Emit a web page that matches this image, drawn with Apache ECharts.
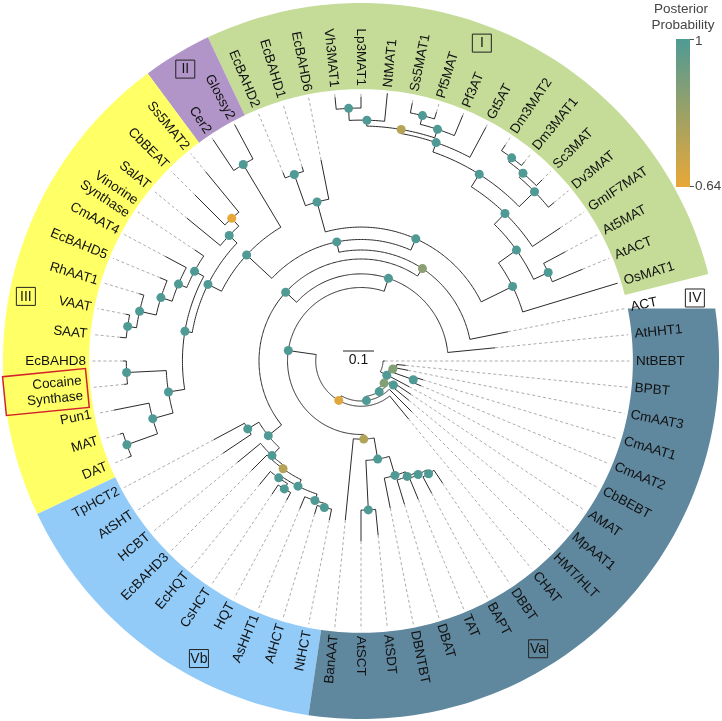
<!DOCTYPE html>
<html>
<head>
<meta charset="utf-8">
<script src="https://cdn.jsdelivr.net/npm/echarts@6/dist/echarts.min.js"></script>
<style>
html,body{margin:0;padding:0;background:#ffffff;}
#chart{width:722px;height:721px;}
</style>
</head>
<body>
<div id="chart"></div>
<script>
// ---------- DATA ----------
// Leaves in counter-clockwise order; leaf i sits at angle position i+1 (64 positions = 360 deg)
const leafNames = ['AtHHT1','ACT','OsMAT1','AtACT','At5MAT','GmIF7MAT','Dv3MAT','Sc3MAT','Dm3MAT1','Dm3MAT2',
  'Gt5AT','Pf3AT','Pf5MAT','Ss5MAT1','NtMAT1','Lp3MAT1','Vh3MAT1','EcBAHD6','EcBAHD1','EcBAHD2',
  'Glossy2','Cer2','Ss5MAT2','CbBEAT','SalAT','Vinorine\nSynthase','CmAAT4','EcBAHD5','RhAAT1','VAAT',
  'SAAT','EcBAHD8','Cocaine\nSynthase','Pun1','MAT','DAT','TpHCT2','AtSHT','HCBT','EcBAHD3',
  'EcHQT','CsHCT','HQT','AsHHT1','AtHCT','NtHCT','BanAAT','AtSCT','AtSDT','DBNTBT',
  'DBAT','TAT','BAPT','DBBT','CHAT','HMT/HLT','MpAAT1','AMAT','CbBEBT','CmAAT2',
  'CmAAT1','CmAAT3','BPBT','NtBEBT'];
// distance of each tip from the root (substitutions / site)
const leafDepths = [0.435,0.484,0.865,0.774,0.748,0.774,0.806,0.826,0.832,0.839,
  0.855,0.858,0.839,0.848,0.868,0.852,0.855,0.661,0.655,0.658,
  0.865,0.858,0.790,0.758,0.726,0.645,0.716,0.703,0.748,0.774,
  0.781,0.768,0.768,0.813,0.813,0.813,0.539,0.535,0.516,0.500,
  0.516,0.516,0.510,0.516,0.516,0.523,0.516,0.581,0.565,0.484,
  0.484,0.484,0.484,0.474,0.242,0.232,0.200,0.194,0.177,0.210,
  0.210,0.155,0.145,0.077];
// internal nodes
const nodeIds = ['R','b','c','e','f','g','D','A','X','B',
  'P','S','I1','I2','I3a','I3','I4','DmG','DmG2','DmG3',
  'I5','I6','PfG','PfG2','NtG','LpVh','EB','EB12','Q','GC',
  'III','SS','SSa','III2','VinG','VinG2','VinG3','VinG4','VinG5','EcG',
  'EcCoc','PunG','MD','Vb','TA','VbB','VbC','VbD','VbE','CH',
  'VbF','AN','VB','VB2','SS2','VB3','VB4','VB5','VB6','d',
  'a','h','k'];
const nodeDepths = [0.071,0.095,0.103,0.115,0.129,0.146,0.237,0.281,0.329,0.358,
  0.392,0.432,0.545,0.616,0.668,0.665,0.713,0.782,0.800,0.816,
  0.745,0.758,0.787,0.816,0.777,0.816,0.532,0.639,0.503,0.739,
  0.552,0.587,0.621,0.576,0.610,0.639,0.677,0.732,0.761,0.629,
  0.757,0.697,0.802,0.384,0.426,0.419,0.429,0.452,0.461,0.481,
  0.474,0.487,0.252,0.321,0.481,0.385,0.401,0.410,0.424,0.130,
  0.106,0.179,0.116];
// posterior probability (null = not shown)
const nodeSupport = [null,1,0.88,1,1,0.66,1,1,1,0.86,
  1,1,1,1,1,1,1,1,1,1,
  1,0.76,1,1,1,1,1,1,1,1,
  1,1,0.64,1,1,1,1,1,1,1,
  1,1,1,1,1,1,0.76,1,1,1,
  1,1,0.77,1,1,1,1,1,1,1,
  0.88,1,null];
const nodeChildren = [['b','NtBEBT'],['c','a'],['e','CbBEBT'],['f','d'],['g','HMT/HLT'],['D','CHAT'],['A','VB'],['AtHHT1','X'],['B','Vb'],['ACT','P'],
  ['S','Q'],['I1','EB'],['OsMAT1','I2'],['I3a','I3'],['AtACT','At5MAT'],['GmIF7MAT','I4'],['DmG','I5'],['Dv3MAT','DmG2'],['Sc3MAT','DmG3'],['Dm3MAT1','Dm3MAT2'],
  ['Gt5AT','I6'],['PfG','NtG'],['Pf3AT','PfG2'],['Pf5MAT','Ss5MAT1'],['NtMAT1','LpVh'],['Lp3MAT1','Vh3MAT1'],['EcBAHD6','EB12'],['EcBAHD1','EcBAHD2'],['GC','III'],['Glossy2','Cer2'],
  ['SS','III2'],['SSa','SalAT'],['Ss5MAT2','CbBEAT'],['VinG','EcG'],['Vinorine\nSynthase','VinG2'],['CmAAT4','VinG3'],['EcBAHD5','VinG4'],['RhAAT1','VinG5'],['VAAT','SAAT'],['EcCoc','PunG'],
  ['EcBAHD8','Cocaine\nSynthase'],['Pun1','MD'],['MAT','DAT'],['TA','VbB'],['TpHCT2','AtSHT'],['HCBT','VbC'],['EcBAHD3','VbD'],['VbE','VbF'],['EcHQT','CH'],['CsHCT','HQT'],
  ['AsHHT1','AN'],['AtHCT','NtHCT'],['BanAAT','VB2'],['SS2','VB3'],['AtSCT','AtSDT'],['DBNTBT','VB4'],['DBAT','VB5'],['TAT','VB6'],['BAPT','DBBT'],['MpAAT1','AMAT'],
  ['h','k'],['CmAAT2','CmAAT1'],['CmAAT3','BPBT']];
// clade bands (angle positions)
const cladeNames = ['I','II','III','Vb','Va'];
const cladeStart = [2.5,20.5,22.5,36.5,46.5];
const cladeEnd = [20.5,22.5,36.5,46.5,65.5];
const cladeColors = ['#c4dc97','#b195c8','#ffff66','#92cbf8','#5f879e'];
const cladeFlatEnd = [false,false,false,false,true];
// clade tag boxes
const tagText = ['I','II','III','IV','Va','Vb'];
const tagRadius = [1.097,1.099,1.101,1.096,1.090,1.093];
const tagAngle = [12.30,21.52,30.06,1.90,53.62,42.92];
// scale bar
const scaleBarLength = 0.1;
const scaleBarLabel = '0.1';
// posterior colour scale
const supportMin = 0.64, supportMax = 1;
const supportColors = ['#e8a838','#4f9a95'];

// ---------- GEOMETRY CONSTANTS (styling) ----------
const ANGLE_MAX = 64;
const R_MAX = 1.2;
const POLAR_RADIUS_PX = 372;
const DASH_END = 0.866;
const LABEL_R = 0.887;
const RING_IN = 0.877, RING_OUT = 1.155;
const FONT_FAMILY = '"Liberation Sans", Arial, Helvetica, sans-serif';

// ---------- BUILD TREE SEGMENTS ----------
const leafAngle = {}, leafDepth = {};
leafNames.forEach((n, i) => { leafAngle[n] = i + 1; leafDepth[n] = leafDepths[i]; });
const nodeIndex = {};
nodeIds.forEach((id, i) => { nodeIndex[id] = i; });
const angleMemo = {};
function angleOf(key) {
  if (key in leafAngle) return leafAngle[key];
  if (key in angleMemo) return angleMemo[key];
  const a = nodeChildren[nodeIndex[key]].map(angleOf);
  const v = (Math.min(...a) + Math.max(...a)) / 2;
  angleMemo[key] = v;
  return v;
}
function depthOf(key) { return (key in leafDepth) ? leafDepth[key] : nodeDepths[nodeIndex[key]]; }

const segments = []; // [kind, r1, r2, t1, t2]  kind 0 arc, 1 solid radial, 2 dashed radial
nodeIds.forEach((id, i) => {
  const r = nodeDepths[i];
  const angs = nodeChildren[i].map(angleOf);
  segments.push([0, r, r, Math.min(...angs), Math.max(...angs)]);
  nodeChildren[i].forEach(ch => {
    const t = angleOf(ch);
    segments.push([1, r, depthOf(ch), t, t]);
    if ((ch in leafDepth) && leafDepth[ch] < DASH_END) segments.push([2, leafDepth[ch], DASH_END, t, t]);
  });
});
const nodePoints = [];
nodeIds.forEach((id, i) => {
  if (nodeSupport[i] != null) nodePoints.push([nodeDepths[i], angleOf(id), nodeSupport[i]]);
});
const labelData = leafNames.map((n, i) => [LABEL_R, i + 1]);
const bandData = cladeNames.map((n, i) => [RING_OUT, cladeStart[i], cladeEnd[i], i]);
const tagData = tagText.map((t, i) => [tagRadius[i], tagAngle[i], i]);

// ---------- CHART ----------
const chart = echarts.init(document.getElementById('chart'), null, {renderer: 'canvas'});

function polarAngle(api, p) {
  const c = api.coord([0, 0]);
  return Math.atan2(-(p[1] - c[1]), p[0] - c[0]);
}

const option = {
  animation: false,
  backgroundColor: '#ffffff',
  polar: { center: [361, 361], radius: POLAR_RADIUS_PX },
  angleAxis: { type: 'value', min: 0, max: ANGLE_MAX, startAngle: 0, clockwise: false,
    axisLine: {show: false}, axisTick: {show: false}, axisLabel: {show: false}, splitLine: {show: false}, splitArea: {show: false} },
  radiusAxis: { type: 'value', min: 0, max: R_MAX,
    axisLine: {show: false}, axisTick: {show: false}, axisLabel: {show: false}, splitLine: {show: false}, splitArea: {show: false} },
  visualMap: { show: false, type: 'continuous', min: supportMin, max: supportMax, dimension: 2, seriesIndex: 2,
    inRange: { color: supportColors } },
  series: [
    { // clade bands
      type: 'custom', coordinateSystem: 'polar', silent: true, z: 1,
      dimensions: ['r', 't0', 't1', 'idx'], encode: { radius: 0, angle: 1 },
      data: bandData,
      renderItem: function (params, api) {
        const t0 = api.value(1), t1 = api.value(2), idx = api.value(3);
        const pts = [];
        const n = Math.max(4, Math.ceil((t1 - t0) * 6));
        for (let j = 0; j <= n; j++) pts.push(api.coord([RING_OUT, t0 + (t1 - t0) * j / n]));
        let tInEnd = t1;
        if (cladeFlatEnd[idx]) {
          const c = api.coord([0, 0]);
          const P = api.coord([RING_OUT, t1]);
          const rin = Math.abs(api.coord([RING_IN, 0])[0] - c[0]);
          const dy = P[1] - c[1];
          const dx = Math.sqrt(rin * rin - dy * dy);
          const Q = [c[0] + dx, P[1]];
          const aP = polarAngle(api, P), aQ = polarAngle(api, Q);
          tInEnd = t1 + (aQ - aP) * ANGLE_MAX / (2 * Math.PI);
        }
        const m = Math.max(4, Math.ceil((tInEnd - t0) * 6));
        for (let j = 0; j <= m; j++) pts.push(api.coord([RING_IN, tInEnd - (tInEnd - t0) * j / m]));
        return { type: 'polygon', shape: { points: pts }, style: { fill: cladeColors[idx], stroke: null } };
      }
    },
    { // branches
      type: 'custom', coordinateSystem: 'polar', silent: true, z: 2,
      dimensions: ['kind', 'r1', 'r2', 't1', 't2'], encode: { radius: 1, angle: 3 },
      data: segments,
      renderItem: function (params, api) {
        const kind = api.value(0), r1 = api.value(1), r2 = api.value(2), t1 = api.value(3), t2 = api.value(4);
        let pts;
        if (kind === 0) {
          pts = [];
          const n = Math.max(2, Math.ceil((t2 - t1) * 8));
          for (let j = 0; j <= n; j++) pts.push(api.coord([r1, t1 + (t2 - t1) * j / n]));
        } else {
          pts = [api.coord([r1, t1]), api.coord([r2, t2])];
        }
        const style = kind === 2
          ? { stroke: '#a3a3a3', lineWidth: 0.9, lineDash: [3, 2.5], fill: null }
          : { stroke: '#2a2a2a', lineWidth: 1, fill: null };
        return { type: 'polyline', shape: { points: pts }, style: style };
      }
    },
    { // posterior nodes
      type: 'scatter', coordinateSystem: 'polar', silent: true, z: 3,
      symbol: 'circle', symbolSize: 9,
      itemStyle: { opacity: 1, borderWidth: 0 },
      data: nodePoints
    },
    { // leaf labels
      type: 'custom', coordinateSystem: 'polar', silent: true, z: 4,
      dimensions: ['r', 't'], encode: { radius: 0, angle: 1 },
      data: labelData,
      renderItem: function (params, api) {
        const name = leafNames[params.dataIndex];
        const p = api.coord([api.value(0), api.value(1)]);
        const a = polarAngle(api, p);
        const deg = a * 180 / Math.PI;
        const left = (deg > 89.9 || deg < -90.1);
        const rot = left ? (a > 0 ? a - Math.PI : a + Math.PI) : a;
        const style = {
          text: name, x: 0, y: 0, fill: '#111111',
          fontSize: 13.5, fontFamily: FONT_FAMILY,
          align: left ? 'right' : 'left', verticalAlign: 'middle', lineHeight: 15.5
        };
        if (name.indexOf('Cocaine') === 0) {
          style.borderColor = '#d3222a';
          style.borderWidth = 1.5;
          style.padding = [4, 5, 4, 22];
          style.align = 'right';
        }
        return { type: 'text', x: p[0], y: p[1], rotation: rot, style: style };
      }
    },
    { // clade tags
      type: 'custom', coordinateSystem: 'polar', silent: true, z: 5,
      dimensions: ['r', 't', 'i'], encode: { radius: 0, angle: 1 },
      data: tagData,
      renderItem: function (params, api) {
        const p = api.coord([api.value(0), api.value(1)]);
        const txt = tagText[api.value(2)];
        const w = 19, h = 18;
        return { type: 'group', children: [
          { type: 'rect', shape: { x: p[0] - w / 2, y: p[1] - h / 2, width: w, height: h },
            style: { fill: null, stroke: '#222', lineWidth: 1 } },
          { type: 'text', x: p[0], y: p[1] + 0.5,
            style: { text: txt, fill: '#151515', fontSize: 14, fontFamily: FONT_FAMILY, align: 'center', verticalAlign: 'middle' } }
        ] };
      }
    },
    { // scale bar
      type: 'custom', coordinateSystem: 'polar', silent: true, z: 5,
      dimensions: ['r', 't'], encode: { radius: 0, angle: 1 },
      data: [[scaleBarLength, 0]],
      renderItem: function (params, api) {
        const c = api.coord([0, 0]);
        const e = api.coord([api.value(0), 0]);
        const len = e[0] - c[0];
        const x0 = 343, y0 = 351;
        return { type: 'group', children: [
          { type: 'line', shape: { x1: x0, y1: y0, x2: x0 + len, y2: y0 }, style: { stroke: '#222', lineWidth: 1 } },
          { type: 'text', x: x0 + len / 2, y: y0 + 9,
            style: { text: scaleBarLabel, fill: '#151515', fontSize: 14, fontFamily: FONT_FAMILY, align: 'center', verticalAlign: 'middle' } }
        ] };
      }
    }
  ],
  graphic: [
    { type: 'text', x: 681, y: 9, style: { text: 'Posterior', fill: '#444', fontSize: 13.5, fontFamily: FONT_FAMILY, align: 'center', verticalAlign: 'middle' } },
    { type: 'text', x: 683, y: 25, style: { text: 'Probability', fill: '#444', fontSize: 13.5, fontFamily: FONT_FAMILY, align: 'center', verticalAlign: 'middle' } },
    { type: 'rect', shape: { x: 676, y: 39, width: 14, height: 148 },
      style: { fill: new echarts.graphic.LinearGradient(0, 0, 0, 1, [
        { offset: 0, color: supportColors[1] }, { offset: 1, color: supportColors[0] }]), stroke: null } },
    { type: 'line', shape: { x1: 690, y1: 39.5, x2: 694, y2: 39.5 }, style: { stroke: '#555', lineWidth: 1 } },
    { type: 'line', shape: { x1: 690, y1: 186.5, x2: 694, y2: 186.5 }, style: { stroke: '#555', lineWidth: 1 } },
    { type: 'text', x: 695, y: 41, style: { text: String(supportMax), fill: '#444', fontSize: 13.5, fontFamily: FONT_FAMILY, align: 'left', verticalAlign: 'middle' } },
    { type: 'text', x: 695, y: 186, style: { text: String(supportMin), fill: '#444', fontSize: 13.5, fontFamily: FONT_FAMILY, align: 'left', verticalAlign: 'middle' } }
  ]
};
chart.setOption(option);
</script>
</body>
</html>
